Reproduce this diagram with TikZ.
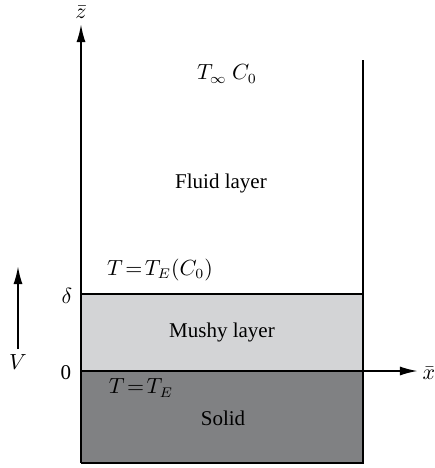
\documentclass[tikz,border=0pt]{standalone}
\usepackage{fontspec}
\setmainfont{Liberation Serif}
\usetikzlibrary{arrows.meta}
\definecolor{mushygray}{RGB}{211,212,214}
\definecolor{solidgray}{RGB}{128,129,131}
\AtBeginDocument{\thickmuskip=2mu\relax}

\begin{document}
\begin{tikzpicture}[x=0.5pt,y=-0.5pt,>={Latex[length=9pt,width=4.5pt]},
  wall/.style={line width=1pt},
  mushyfill/.style={fill=mushygray},
  solidfill/.style={fill=solidgray},
  lab/.style={inner sep=1pt,font=\fontsize{10.5}{12}\selectfont}]
\useasboundingbox (0,0) rectangle (435,468);
% layers
\fill[mushyfill] (81,294) rectangle (363,371);
\fill[solidfill] (81,371) rectangle (363,463);
\coordinate (dl) at (81,294);
\coordinate (dr) at (363,294);
\coordinate (bl) at (81,463);
\coordinate (br) at (363,463);
\coordinate (rt) at (363,60);
\draw[wall] (dl) -- (dr);
\draw[wall] (bl) -- (br) -- (rt);
% axes
\coordinate (o) at (81,371);
\coordinate (ztop) at (81,24);
\coordinate (xend) at (418,371);
\draw[wall,->] (bl) -- (ztop);
\draw[wall,->] (o) -- (xend);
\node (zlab) [lab] at (81,12) {$\bar z$};
\node (xlab) [lab] at (429,373) {$\bar x$};
\node (dlab) [lab] at (67,296) {$\delta$};
\node (olab) [lab] at (66,373) {0};
% pulling speed
\coordinate (vtail) at (18,349);
\coordinate (vhead) at (18,266);
\draw[wall,->] (vtail) -- (vhead);
\node (vlab) [lab] at (18,362) {$V$};
% texts
\node (far) [lab] at (227,74) {$T_\infty\ C_0$};
\node (fluid) [lab] at (221,183) {Fluid layer};
\node (liq) [lab] at (160,270) {$T=T_E(C_0)$};
\node (mushy) [lab] at (222,332) {Mushy layer};
\node (eut) [lab] at (141,388) {$T=T_E$};
\node (solid) [lab] at (223,418) {Solid};
\end{tikzpicture}
\end{document}
